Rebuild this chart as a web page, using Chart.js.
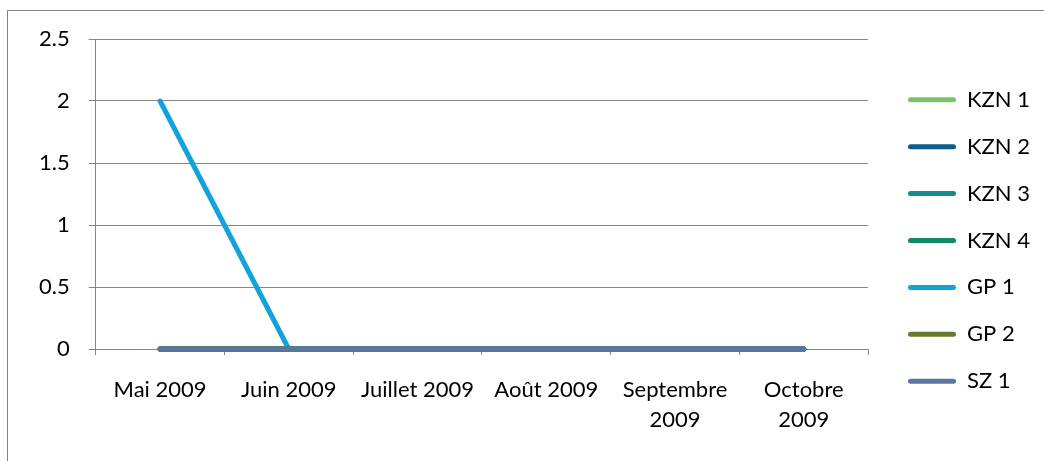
<!DOCTYPE html>
<html>
<head>
<meta charset="utf-8">
<script src="https://cdn.jsdelivr.net/npm/chart.js@4.4.0/dist/chart.umd.min.js"></script>
<style>
  html, body { margin: 0; padding: 0; background: #fff; overflow: hidden; }
  #wrap { position: relative; width: 1044px; height: 461px; }
  #frame { position: absolute; left: 7px; top: 10px; width: 1100px; height: 500px; border: 1px solid #868686; }
  canvas { position: absolute; left: 0; top: 0; }
</style>
</head>
<body>
<div id="wrap">
  <div id="frame"></div>
  <canvas id="myChart" width="1044" height="461"></canvas>
</div>
<script>
// months on the x axis
const labels = ['Mai 2009', 'Juin 2009', 'Juillet 2009', 'Août 2009', ['Septembre', '2009'], ['Octobre', '2009']];

const kzn1 = [0, 0, 0, 0, 0, 0];
const kzn2 = [0, 0, 0, 0, 0, 0];
const kzn3 = [0, 0, 0, 0, 0, 0];
const kzn4 = [0, 0, 0, 0, 0, 0];
const gp1 = [2, 0, 0, 0, 0, 0];
const gp2 = [0, 0, 0, 0, 0, 0];
const sz1 = [0, 0, 0, 0, 0, 0];

const yTicks = [0, 0.5, 1, 1.5, 2, 2.5];

const font = { family: 'Lato, "Open Sans", sans-serif', size: 22 };

function line(label, data, color, order) {
  return {
    label: label,
    data: data,
    borderColor: color,
    backgroundColor: color,
    borderWidth: 5,
    borderCapStyle: 'round',
    borderJoinStyle: 'round',
    pointRadius: 0,
    tension: 0,
    clip: 10,
    order: order
  };
}

const ctx = document.getElementById('myChart');

const chart = new Chart(ctx, {
  type: 'line',
  data: {
    labels: labels,
    datasets: [
      line('KZN 1', kzn1, '#77c663', 7),
      line('KZN 2', kzn2, '#0f5d8a', 6),
      line('KZN 3', kzn3, '#148b8c', 5),
      line('KZN 4', kzn4, '#128a66', 4),
      line('GP 1', gp1, '#12a3da', 3),
      line('GP 2', gp2, '#667b2c', 2),
      line('SZ 1', sz1, '#5b76a0', 1)
    ]
  },
  options: {
    responsive: false,
    animation: false,
    layout: { padding: { left: 20, top: 39, right: 4, bottom: 19 } },
    plugins: {
      tooltip: { enabled: false },
      legend: {
        position: 'right',
        labels: {
          color: '#000',
          font: font,
          boxWidth: 48,
          boxHeight: 5,
          padding: 24.9,
          useBorderRadius: true,
          borderRadius: 2.5,
          sort: (a, b) => a.datasetIndex - b.datasetIndex,
          generateLabels: c => Chart.defaults.plugins.legend.labels.generateLabels(c)
            .map(item => Object.assign(item, { lineWidth: 0 }))
        }
      }
    },
    scales: {
      x: {
        offset: true,
        grid: { offset: true, drawOnChartArea: false, color: '#868686', tickLength: 6 },
        border: { color: '#868686', width: 1 },
        ticks: {
          color: '#000',
          font: Object.assign({}, font, { lineHeight: 1.36 }),
          padding: 20,
          maxRotation: 0,
          autoSkip: false
        },
        afterFit: axis => { axis.height = 93; }
      },
      y: {
        min: 0,
        max: 2.5,
        afterBuildTicks: axis => { axis.ticks = yTicks.map(v => ({ value: v })); },
        grid: { color: '#868686', tickLength: 7 },
        border: { color: '#868686', width: 1 },
        ticks: { color: '#000', font: font, padding: 19, callback: v => String(v) }
      },
      // empty spacer between the plot and the legend
      gap: {
        type: 'linear',
        position: 'right',
        display: true,
        grid: { display: false },
        border: { display: false },
        ticks: { display: false },
        afterFit: axis => { axis.width = 15; }
      }
    }
  }
});
</script>
</body>
</html>
